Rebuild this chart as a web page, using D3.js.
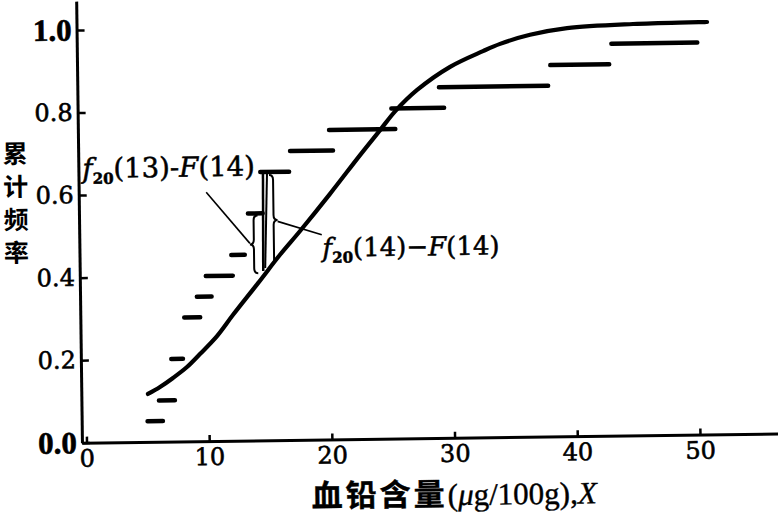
<!DOCTYPE html>
<html><head><meta charset="utf-8">
<script src="https://cdn.jsdelivr.net/npm/d3@7"></script>
<style>
html,body{margin:0;padding:0;background:#fff;}
svg{display:block;}
</style></head>
<body>
<svg id="c" width="778" height="518"></svg>
<script>
// ---- data ----
const xTicks = [0, 10, 20, 30, 40, 50];
const yTicks = [0, 0.2, 0.4, 0.6, 0.8, 1.0];
// empirical cumulative frequency f20(x): level, start, end of each horizontal step
const stepValues = [0.05, 0.10, 0.20, 0.30, 0.35, 0.40, 0.45, 0.55, 0.65, 0.70, 0.75, 0.80, 0.85, 0.90, 0.95];
const stepStarts = [5.0, 5.95, 7.0, 8.1, 9.15, 9.9, 12.0, 13.4, 14.45, 16.9, 20.1, 25.2, 29.1, 38.2, 43.2];
const stepEnds   = [6.25, 7.25, 7.95, 9.4, 10.35, 12.1, 13.1, 14.6, 16.8, 20.4, 25.5, 29.5, 38.0, 43.0, 50.2];
// fitted cumulative distribution F(x)
const curveX = [5.06, 6.05, 7.12, 8.27, 9.34, 10.75, 12.08, 14.15, 15.97, 17.63, 20.11, 22.6, 24.26, 25.5, 27.32, 30.03, 32.73, 34.13, 36.58, 39.6, 44.99, 51.02];
const curveY = [0.116, 0.1325, 0.154, 0.180, 0.211, 0.254, 0.305, 0.381, 0.449, 0.506, 0.595, 0.688, 0.748, 0.793, 0.844, 0.899, 0.936, 0.953, 0.974, 0.989, 0.997, 0.9995];
// annotation anchor: x = 14, f20(13), f20(14), F(14)
const annX = 14.75;
const annF13 = 0.55, annF14 = 0.65, annCdf = 0.41;
const yTitleChars = ["累", "计", "频", "率"];

// ---- drawing ----
const svg = d3.select("#c");
const root = svg.append("g").attr("transform", "rotate(-0.75 82 443)");

const xMin = -0.37, xMax = 57.5, X0 = 86.5, K = 12.27;
const x = d3.scaleLinear().domain([xMin, xMax]).range([X0 + xMin * K, X0 + xMax * K]);
const y = d3.scaleLinear().domain([0, 1.07]).range([442.7, 442.7 - 1.07 * 412.7]);

const serif = "'DejaVu Serif', serif";

// x axis
const gx = root.append("g").attr("transform", `translate(0,${y(0)})`)
  .call(d3.axisBottom(x).tickValues(xTicks).tickFormat(d3.format("d"))
        .tickSizeInner(-6).tickSizeOuter(0).tickPadding(7));
// y axis
const gy = root.append("g").attr("transform", `translate(${x(xMin)},0)`)
  .call(d3.axisLeft(y).tickValues(yTicks).tickFormat(d3.format(".1f"))
        .tickSizeInner(-8).tickSizeOuter(0).tickPadding(5));

[gx, gy].forEach(g => {
  g.select(".domain").attr("stroke", "#000").attr("stroke-width", 3);
  g.selectAll(".tick line").attr("stroke", "#000").attr("stroke-width", 2.5);
  g.selectAll(".tick text").attr("fill", "#000")
    .style("font-family", serif).style("font-size", "24px")
    .attr("stroke", "#000").attr("stroke-width", 0.6);
});
gy.selectAll(".tick text").filter(d => d === 0 || d === 1)
  .style("font-family", "'Liberation Serif', serif").style("font-size", "31px")
  .style("font-weight", "bold");

// steps
root.append("g").selectAll("line").data(stepValues).join("line")
  .attr("x1", (d, i) => x(stepStarts[i])).attr("x2", (d, i) => x(stepEnds[i]))
  .attr("y1", d => y(d)).attr("y2", d => y(d))
  .attr("stroke", "#000").attr("stroke-width", 4.5).attr("stroke-linecap", "round");

// curve
const pts = curveX.map((v, i) => [v, curveY[i]]);
root.append("path").datum(pts)
  .attr("d", d3.line().x(d => x(d[0])).y(d => y(d[1])).curve(d3.curveCatmullRom.alpha(0.5)))
  .attr("fill", "none").attr("stroke", "#000").attr("stroke-width", 4.2)
  .attr("stroke-linecap", "round");

// annotation at x = 14
const xa = x(annX), y65 = y(annF14), y55 = y(annF13), yF = y(annCdf);
const ann = root.append("g").attr("fill", "none").attr("stroke", "#000");
ann.append("line").attr("x1", xa - 1).attr("x2", xa - 2).attr("y1", y65).attr("y2", yF)
  .attr("stroke-width", 2.5);
ann.append("line").attr("x1", xa + 3).attr("x2", xa).attr("y1", y65 + 2).attr("y2", yF - 3)
  .attr("stroke-width", 2);
function brace(bx, y1, y2, w) {
  const m = (y1 + y2) / 2, h = 5;
  return `M${bx},${y1} Q${bx + w / 2},${y1} ${bx + w / 2},${y1 + h}` +
         ` L${bx + w / 2},${m - h} Q${bx + w / 2},${m} ${bx + w},${m}` +
         ` Q${bx + w / 2},${m} ${bx + w / 2},${m + h} L${bx + w / 2},${y2 - h}` +
         ` Q${bx + w / 2},${y2} ${bx},${y2}`;
}
ann.append("path").attr("d", brace(xa + 5, y65 + 3, yF - 6, 8)).attr("stroke-width", 2);
ann.append("path").attr("d", brace(xa - 7, y55 + 2, yF + 2, -8)).attr("stroke-width", 2);
// leader lines
ann.append("line").attr("x1", xa - 15).attr("y1", (y55 + yF) / 2 + 1)
  .attr("x2", xa - 58).attr("y2", 194).attr("stroke-width", 1.6);
ann.append("line").attr("x1", xa + 13).attr("y1", (y65 + yF) / 2)
  .attr("x2", xa + 57).attr("y2", (y65 + yF) / 2 + 14).attr("stroke-width", 1.6);

function annText(tx, ty, idx, dash, fs) {
  const t = root.append("text").attr("x", tx).attr("y", ty)
    .style("font-family", serif).style("font-size", fs + "px")
    .attr("fill", "#000").attr("stroke", "#000").attr("stroke-width", 0.5);
  t.append("tspan").style("font-style", "italic").text("f");
  t.append("tspan").style("font-size", "15px").style("font-weight", "bold").attr("dy", 6).text("20");
  t.append("tspan").attr("dy", -6).text(`(${idx})${dash}`);
  t.append("tspan").style("font-style", "italic").text("F");
  t.append("tspan").text("(14)");
}
annText(86, 178, 13, "-", 27.5);
annText(325, 260, 14, "\u2212", 26);

// y title: one text, one stacked glyph per line
const yt = root.append("text")
  .style("font-family", "'Noto Sans CJK SC', sans-serif").style("font-size", "25px")
  .style("font-weight", "bold").attr("fill", "#000").attr("text-anchor", "middle");
yt.selectAll("tspan").data(yTitleChars).join("tspan")
  .attr("x", 19).attr("y", (d, i) => 162 + i * 33).text(d => d);

// x title
const xt = root.append("text").attr("x", 311).attr("y", 510)
  .attr("fill", "#000").attr("stroke", "#000").attr("stroke-width", 0.4);
xt.append("tspan").style("font-family", "'Noto Sans CJK SC', sans-serif")
  .style("font-size", "31px").style("font-weight", "bold").attr("letter-spacing", "3px").text("血铅含量");
xt.append("tspan").style("font-family", "'Liberation Serif', serif").style("font-size", "31px").text("(");
xt.append("tspan").style("font-family", "'Liberation Serif', serif").style("font-size", "31px").style("font-style", "italic").text("μ");
xt.append("tspan").style("font-family", "'Liberation Serif', serif").style("font-size", "31px").text("g/100g),");
xt.append("tspan").style("font-family", "'Liberation Serif', serif").style("font-size", "31px").style("font-style", "italic").text("X");
</script>
</body></html>
